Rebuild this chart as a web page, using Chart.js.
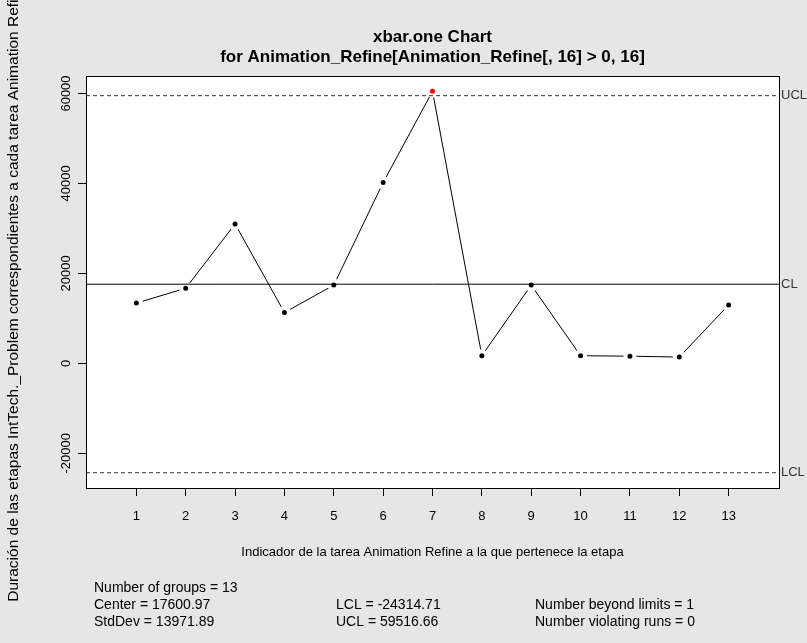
<!DOCTYPE html>
<html><head><meta charset="utf-8">
<script src="https://cdn.jsdelivr.net/npm/chart.js@4/dist/chart.umd.min.js"></script>
<style>html,body{margin:0;padding:0;background:#E6E6E6;}canvas{display:block}</style>
</head><body>
<div style="width:807px;height:643px"><canvas id="c" width="807" height="643"></canvas></div>
<script>
const groups = [1,2,3,4,5,6,7,8,9,10,11,12,13];
const groupValues = [13400,16700,31000,11300,17400,40200,60500,1700,17400,1700,1600,1400,13000];
const centerLine = 17600.97;
const lowerLimit = -24314.71;
const upperLimit = 59516.66;
const yTickValues = [-20000,0,20000,40000,60000];
const titleLines = ['xbar.one Chart','for Animation_Refine[Animation_Refine[, 16] > 0, 16]'];
const xTitle = 'Indicador de la tarea Animation Refine a la que pertenece la etapa';
const yTitle = 'Duración de las etapas IntTech._Problem correspondientes a cada tarea Animation Refine';
const limitLabels = ['UCL','CL','LCL'];
const statsCol1 = ['Number of groups = 13','Center = 17600.97','StdDev = 13971.89'];
const statsCol2 = ['','LCL = -24314.71','UCL = 59516.66'];
const statsCol3 = ['','Number beyond limits = 1','Number violating runs = 0'];

const FONT = '"Liberation Sans", Arial, sans-serif';
const X0 = -0.02, X1 = 14.02;

const pointColors = groupValues.map(v => (v > upperLimit || v < lowerLimit) ? '#FF0000' : '#000000');

const overlay = {
  id: 'overlay',
  afterDraw(chart) {
    const ctx = chart.ctx, a = chart.chartArea, ys = chart.scales.y;
    ctx.save();
    ctx.strokeStyle = '#000'; ctx.lineWidth = 1;
    ctx.strokeRect(Math.round(a.left)+0.5, Math.round(a.top)+0.5, Math.round(a.right)-Math.round(a.left), Math.round(a.bottom)-Math.round(a.top));
    ctx.fillStyle = '#000'; ctx.textAlign = 'center'; ctx.textBaseline = 'middle';
    ctx.font = 'bold 17px ' + FONT;
    const cx = (a.left + a.right)/2;
    ctx.fillText(titleLines[0], cx, 37);
    ctx.fillText(titleLines[1], cx, 57);
    ctx.font = '13px ' + FONT;
    ctx.fillText(xTitle, cx, 552);
    ctx.font = '13px ' + FONT; ctx.textBaseline = 'alphabetic';
    yTickValues.forEach(v => {
      const py = ys.getPixelForValue(v);
      ctx.save(); ctx.translate(70, py); ctx.rotate(-Math.PI/2);
      ctx.fillText(String(v), 0, 0); ctx.restore();
    });
    ctx.font = '15.5px ' + FONT;
    ctx.save(); ctx.translate(18, 292); ctx.rotate(-Math.PI/2);
    ctx.fillText(yTitle, 0, 0); ctx.restore();
    ctx.font = '13px ' + FONT; ctx.textAlign = 'left'; ctx.textBaseline = 'middle'; ctx.fillStyle = '#333';
    [upperLimit, centerLine, lowerLimit].forEach((v, i) => {
      ctx.fillText(limitLabels[i], a.right + 2, ys.getPixelForValue(v));
    });
    ctx.fillStyle = '#000'; ctx.font = '14px ' + FONT; ctx.textBaseline = 'middle';
    const rowsY = [588, 605, 622];
    [[statsCol1, 94], [statsCol2, 336], [statsCol3, 535]].forEach(([col, x]) => {
      col.forEach((t, i) => { if (t) ctx.fillText(t, x, rowsY[i]); });
    });
    ctx.restore();
  }
};

const lineSet = (v, dash, color) => ({
  data: [{x: X0, y: v}, {x: X1, y: v}],
  showLine: true, borderColor: color, borderWidth: 1, borderDash: dash,
  pointRadius: 0, order: 0
});

new Chart(document.getElementById('c'), {
  type: 'scatter',
  data: {
    datasets: [
      {
        data: groups.map((g, i) => ({x: g, y: groupValues[i]})),
        showLine: true, borderColor: '#000', borderWidth: 1,
        pointRadius: 4.5, pointBorderWidth: 4, pointBorderColor: '#FFFFFF',
        pointBackgroundColor: pointColors, order: 2
      },
      lineSet(centerLine, [], '#000'),
      lineSet(upperLimit, [4, 3], '#333'),
      lineSet(lowerLimit, [4, 3], '#333')
    ]
  },
  options: {
    responsive: false, animation: false, events: [],
    layout: {padding: {top: 76, right: 28, bottom: 0, left: 0}},
    plugins: {legend: {display: false}, tooltip: {enabled: false}},
    scales: {
      x: {
        type: 'linear', min: X0, max: X1,
        afterBuildTicks: s => { s.ticks = groups.map(v => ({value: v})); },
        afterFit: s => { s.height = 155; },
        grid: {drawOnChartArea: false, drawTicks: true, tickLength: 8, color: '#000', lineWidth: 1},
        border: {display: false},
        ticks: {color: '#000', font: {family: FONT, size: 13}, padding: 13, maxRotation: 0, minRotation: 0, autoSkip: false}
      },
      y: {
        type: 'linear', min: -27707, max: 63893,
        afterBuildTicks: s => { s.ticks = yTickValues.map(v => ({value: v})); },
        afterFit: s => { s.width = 86; },
        grid: {drawOnChartArea: false, drawTicks: true, tickLength: 8, color: '#000', lineWidth: 1},
        border: {display: false},
        ticks: {color: 'rgba(0,0,0,0)', font: {family: FONT, size: 12}}
      }
    }
  },
  plugins: [overlay, {
    id: 'bg',
    beforeDraw(chart) {
      const ctx = chart.ctx, a = chart.chartArea;
      ctx.save(); ctx.fillStyle = '#E6E6E6'; ctx.fillRect(0, 0, chart.width, chart.height);
      ctx.fillStyle = '#FFFFFF'; ctx.fillRect(a.left, a.top, a.right - a.left, a.bottom - a.top);
      ctx.restore();
    }
  }]
});
</script>
</body></html>
